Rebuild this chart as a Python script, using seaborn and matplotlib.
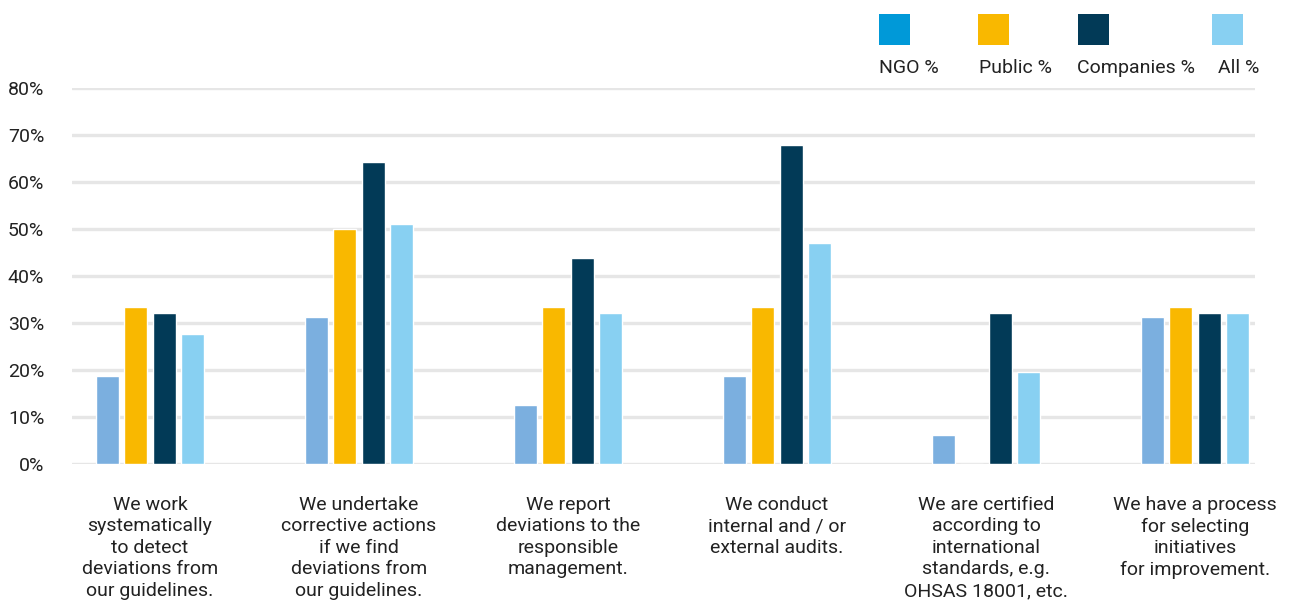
import matplotlib
matplotlib.use("Agg")
import matplotlib.pyplot as plt
from matplotlib.patches import Rectangle
import seaborn as sns
import pandas as pd

categories = [
    "We work\nsystematically\nto detect\ndeviations from\nour guidelines.",
    "We undertake\ncorrective actions\nif we find\ndeviations from\nour guidelines.",
    "We report\ndeviations to the\nresponsible\nmanagement.",
    "We conduct\ninternal and / or\nexternal audits.",
    "We are certified\naccording to\ninternational\nstandards, e.g.\nOHSAS 18001, etc.",
    "We have a process\nfor selecting\ninitiatives\nfor improvement.",
]
series_names = ["NGO %", "Public %", "Companies %", "All %"]
ngo = [18.75, 31.25, 12.5, 18.75, 6.25, 31.25]
public = [33.3, 50.0, 33.3, 33.3, 0.0, 33.3]
companies = [32.1, 64.3, 43.8, 67.9, 32.1, 32.1]
all_ = [27.7, 51.1, 32.1, 47.0, 19.6, 32.1]
yticks = [0, 10, 20, 30, 40, 50, 60, 70, 80]

bar_colors = {"NGO %": "#7bafdf", "Public %": "#f9b800", "Companies %": "#023a57", "All %": "#88d0f2"}
legend_colors = {"NGO %": "#0099d8", "Public %": "#f9b800", "Companies %": "#023a57", "All %": "#88d0f2"}

rows = []
for name, vals in zip(series_names, [ngo, public, companies, all_]):
    for c, v in zip(categories, vals):
        rows.append({"category": c, "series": name, "value": v})
df = pd.DataFrame(rows)

sns.set_theme(style="white")
plt.rcParams["font.family"] = ["Roboto", "DejaVu Sans"]
text_color = "#222222"
fs = 14

fig = plt.figure(figsize=(12.9, 6.01), dpi=100)
ax = fig.add_axes([72 / 1290, 1 - 464 / 601, (1255 - 72) / 1290, (464 - 88) / 601])

sns.barplot(data=df, x="category", y="value", hue="series", order=categories,
            hue_order=series_names, palette=bar_colors, width=0.545, gap=0.18,
            saturation=1, legend=False, ax=ax, zorder=3)

ax.set_ylim(0, 80)
ax.set_xlim(-0.373, 5.287)
ax.set_yticks(yticks)
ax.set_yticklabels([f"{t}%" for t in yticks])
for y in yticks:
    ax.axhline(y, color="#e6e6e6", lw=2.4, zorder=1)
for s in ax.spines.values():
    s.set_visible(False)
ax.set_xlabel("")
ax.set_ylabel("")
ax.tick_params(axis="y", length=0, pad=20, labelsize=fs, labelcolor=text_color)
ax.tick_params(axis="x", length=0, pad=23, labelsize=fs, labelcolor=text_color)
for lbl in ax.get_xticklabels():
    lbl.set_linespacing(1.25)
    lbl.set_ha("center")

# legend (squares above labels)
sq_x = [879, 978, 1078, 1212]
lab_x = [879, 979, 1077, 1218]
for name, sx, lx in zip(series_names, sq_x, lab_x):
    fig.add_artist(Rectangle((sx / 1290, 1 - 45 / 601), 31 / 1290, 31 / 601,
                             transform=fig.transFigure, color=legend_colors[name], lw=0))
    fig.text(lx / 1290, 1 - 68 / 601, name, ha="left", va="center",
             fontsize=fs, color=text_color)

fig.savefig("out.png", dpi=100)
